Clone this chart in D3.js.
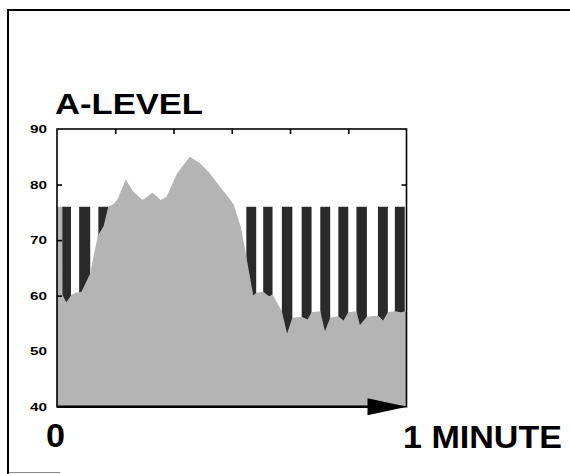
<!DOCTYPE html>
<html>
<head>
<meta charset="utf-8">
<script src="https://cdn.jsdelivr.net/npm/d3@7"></script>
<style>
  html, body { margin: 0; padding: 0; background: #fff; }
  svg { display: block; }
</style>
</head>
<body>
<svg id="chart" width="570" height="474"></svg>
<script>
// ---- data ----
const timeSec = [0, 0.85, 0.9, 1.6, 2.4, 3.1, 3.8, 4.2, 5.7, 7.0, 8.0, 8.8, 9.7, 10.4, 11.8, 13.1, 14.7, 16.4, 17.8, 18.8, 20.6, 22.8, 24.5, 26.0, 28.0, 30.3, 31.6, 32.5, 33.7, 34.2, 35.4, 36.4, 37.0, 38.6, 39.5, 40.4, 42.0, 43.0, 43.7, 45.2, 46.0, 46.9, 48.3, 49.2, 50.0, 51.4, 52.0, 53.2, 55.1, 56.0, 56.8, 58.0, 59.0, 60];
const levelDb = [76, 76, 60.2, 58.8, 60.0, 60.5, 60.6, 60.7, 64.0, 70.8, 72.5, 76, 76.5, 77.4, 80.9, 78.7, 77.2, 78.5, 77.2, 77.8, 82.0, 85.0, 83.9, 82.3, 79.6, 76.5, 72.2, 67.0, 60.0, 60.5, 60.7, 59.9, 60.2, 57.2, 53.2, 56.0, 56.2, 55.7, 57.0, 57.2, 53.6, 56.0, 56.3, 55.5, 57.0, 57.2, 54.7, 56.2, 56.4, 55.5, 57.0, 57.2, 57.0, 57.2];
const barStartSec = [0.9, 3.8, 7.1, 32.5, 35.4, 38.6, 42.0, 45.2, 48.3, 51.4, 55.1, 58.0];
const barEndSec   = [2.4, 5.7, 8.8, 34.2, 37.0, 40.4, 43.7, 46.9, 50.0, 53.2, 56.8, 59.7];
const barTopDb = 76;
const yTickValues = [40, 50, 60, 70, 80, 90];
const xTickValues = [10, 20, 30, 40, 50];
const titleText = "A-LEVEL";
const xStartLabel = "0";
const xEndLabel = "1 MINUTE";

// ---- drawing ----
const svg = d3.select("#chart");
const x = d3.scaleLinear().domain([0, 60]).range([57, 406.5]);
const y = d3.scaleLinear().domain([40, 90]).range([406.7, 129]);

// outer frame (left + top, runs off the page)
svg.append("path")
  .attr("d", "M8,474 L8,10 L570,10")
  .attr("fill", "none").attr("stroke", "#000").attr("stroke-width", 2);
svg.append("line").attr("x1", 9).attr("x2", 60).attr("y1", 472.5).attr("y2", 472.5)
  .attr("stroke", "#888").attr("stroke-width", 1);

// dark bars (from barTop downwards; the level area covers their lower part)
const bars = barStartSec.map((s, i) => ({ s, e: barEndSec[i] }));
svg.append("g").selectAll("rect").data(bars).join("rect")
  .attr("x", d => x(d.s))
  .attr("width", d => x(d.e) - x(d.s))
  .attr("y", y(barTopDb))
  .attr("height", y(40) - y(barTopDb))
  .attr("fill", "#2a2a2a");

// level area
const levels = timeSec.map((t, i) => ({ t, v: levelDb[i] }));
const area = d3.area().x(d => x(d.t)).y0(y(40)).y1(d => y(d.v));
svg.append("path").datum(levels).attr("d", area).attr("fill", "#b4b4b4");

// plot frame
svg.append("rect")
  .attr("x", x(0)).attr("y", y(90))
  .attr("width", x(60) - x(0)).attr("height", y(40) - y(90))
  .attr("fill", "none").attr("stroke", "#000").attr("stroke-width", 1.6);
svg.append("line").attr("x1", x(0)).attr("x2", x(60) - 30)
  .attr("y1", y(40)).attr("y2", y(40)).attr("stroke", "#000").attr("stroke-width", 2.4);

// ticks
svg.append("g").attr("transform", `translate(0,${y(90)})`)
  .call(d3.axisBottom(x).tickValues(xTickValues).tickSize(5).tickFormat(""))
  .call(g => g.select(".domain").remove())
  .call(g => g.selectAll("line").attr("stroke-width", 1.6));
svg.append("g").attr("transform", `translate(${x(0)},0)`)
  .call(d3.axisRight(y).tickValues([60, 70, 80]).tickSize(5).tickFormat(""))
  .call(g => g.select(".domain").remove())
  .call(g => g.selectAll("line").attr("stroke-width", 1.6));
svg.append("g").attr("transform", `translate(${x(60)},0)`)
  .call(d3.axisLeft(y).tickValues([80]).tickSize(5).tickFormat(""))
  .call(g => g.select(".domain").remove())
  .call(g => g.selectAll("line").attr("stroke-width", 1.6));

// y tick labels
svg.append("g").selectAll("text").data(yTickValues).join("text")
  .attr("x", 47).attr("y", d => y(d) + 4.2)
  .attr("text-anchor", "end")
  .attr("font-family", "Liberation Sans, Arial, sans-serif")
  .attr("font-weight", "bold").attr("font-size", 11.5)
  .attr("textLength", 17).attr("lengthAdjust", "spacingAndGlyphs")
  .text(d => d);

// arrow head on the time axis
svg.append("path")
  .attr("d", `M${x(60) - 39},${y(40) - 8.5} L${x(60) + 0.5},${y(40)} L${x(60) - 39},${y(40) + 8.5} Z`)
  .attr("fill", "#000");

// titles
svg.append("text").attr("x", 55).attr("y", 113.5)
  .attr("font-family", "Liberation Sans, Arial, sans-serif")
  .attr("font-weight", "bold").attr("font-size", 30)
  .attr("textLength", 148).attr("lengthAdjust", "spacingAndGlyphs")
  .text(titleText);
svg.append("text").attr("x", 46).attr("y", 446.5)
  .attr("font-family", "Liberation Sans, Arial, sans-serif")
  .attr("font-weight", "bold").attr("font-size", 33)
  .attr("textLength", 19).attr("lengthAdjust", "spacingAndGlyphs")
  .text(xStartLabel);
svg.append("text").attr("x", 403).attr("y", 448)
  .attr("font-family", "Liberation Sans, Arial, sans-serif")
  .attr("font-weight", "bold").attr("font-size", 32)
  .attr("textLength", 159).attr("lengthAdjust", "spacingAndGlyphs")
  .text(xEndLabel);
</script>
</body>
</html>
